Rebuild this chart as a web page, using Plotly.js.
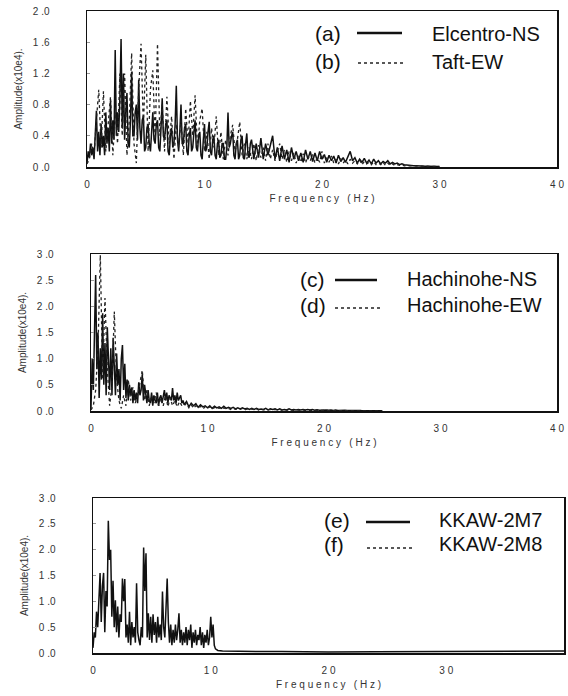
<!DOCTYPE html>
<html>
<head>
<meta charset="utf-8">
<script src="https://cdn.plot.ly/plotly-3.0.1.min.js"></script>
<style>
html,body{margin:0;padding:0;background:#fff;}
#chart{width:568px;height:696px;}
</style>
</head>
<body>
<div id="chart"></div>
<script>
// ---------- DATA (amplitude in x10e4) ----------
// Each series: a fine band (FINE_STEP Hz from 0 Hz) followed by a coarse band (COARSE_STEP Hz from its start).
const FINE_STEP = 0.1;
const COARSE_STEP = 0.2;

// (a) Elcentro-NS : 0.0 - 13.9 Hz fine, 14.0 - 30.0 Hz coarse
const ELCENTRO_NS_FINE = [
  0.05,0.20,0.12,0.30,0.15,0.25,0.10,0.40,0.72,0.20,
  0.45,0.15,0.55,0.25,0.40,0.15,0.70,0.30,0.50,0.20,
  0.85,0.30,0.60,0.35,1.50,0.40,0.70,0.45,0.90,1.64,
  0.50,1.20,0.35,0.70,0.95,0.30,0.25,0.60,1.22,0.40,
  0.40,0.70,0.80,0.35,1.12,0.50,0.30,0.60,0.65,0.20,
  0.25,0.50,0.55,0.30,0.20,0.45,0.70,0.35,0.30,0.55,
  0.60,0.25,0.20,0.50,0.88,0.40,0.35,0.55,0.60,0.20,
  0.15,0.40,0.50,0.25,0.30,0.55,1.04,0.35,0.20,0.45,
  0.80,0.30,0.30,0.50,0.55,0.20,0.15,0.40,0.50,0.20,
  0.25,0.45,0.60,0.25,0.20,0.40,0.45,0.15,0.10,0.35,
  0.55,0.20,0.25,0.45,0.58,0.20,0.15,0.35,0.40,0.15,
  0.10,0.30,0.35,0.12,0.15,0.30,0.30,0.10,0.10,0.25,
  0.70,0.25,0.30,0.40,0.45,0.15,0.10,0.30,0.35,0.10,
  0.15,0.35,0.40,0.12,0.10,0.30,0.43,0.15,0.12,0.30
];
const ELCENTRO_NS_COARSE_START = 14.0;
const ELCENTRO_NS_COARSE = [
  0.35,0.10,0.30,0.12,0.37,0.10,0.30,0.15,0.28,0.40,
  0.10,0.25,0.08,0.27,0.10,0.22,0.06,0.25,0.10,0.20,
  0.08,0.18,0.06,0.22,0.10,0.20,0.07,0.18,0.08,0.20,
  0.10,0.16,0.06,0.15,0.08,0.14,0.05,0.15,0.07,0.12,
  0.06,0.13,0.20,0.08,0.12,0.05,0.10,0.06,0.11,0.05,
  0.09,0.04,0.10,0.05,0.08,0.04,0.07,0.05,0.08,0.04,
  0.06,0.04,0.05,0.03,0.04,0.03,0.025,0.02,0.02,0.015,
  0.015,0.012,0.012,0.01,0.01,0.01,0.01,0.008,0.008,0.008,
  0.008
];

// (b) Taft-EW : 0.0 - 30.0 Hz coarse
const TAFT_EW_COARSE_START = 0.0;
const TAFT_EW_COARSE = [
  0.04,0.10,0.30,0.15,0.60,0.99,0.25,0.97,0.20,0.60,
  0.90,0.15,0.70,0.30,1.20,0.40,1.20,0.15,0.60,1.46,
  0.30,0.05,1.00,1.58,0.50,1.44,0.20,1.00,1.24,0.35,
  1.58,0.40,0.80,0.20,0.90,0.30,0.65,0.10,0.55,0.25,
  0.60,0.15,0.75,0.30,0.85,0.40,0.92,0.25,0.60,0.75,
  0.20,0.45,0.10,0.50,0.25,0.65,0.15,0.45,0.10,0.35,
  0.15,0.40,0.54,0.20,0.35,0.58,0.15,0.30,0.10,0.25,
  0.10,0.30,0.08,0.28,0.12,0.25,0.08,0.30,0.10,0.22,
  0.08,0.20,0.30,0.10,0.22,0.06,0.20,0.08,0.18,0.05,
  0.15,0.06,0.17,0.05,0.14,0.08,0.16,0.05,0.12,0.06,
  0.20,0.05,0.12,0.06,0.14,0.05,0.10,0.04,0.11,0.05,
  0.09,0.04,0.10,0.05,0.08,0.04,0.09,0.03,0.07,0.04,
  0.06,0.03,0.07,0.03,0.05,0.03,0.06,0.02,0.05,0.02,
  0.04,0.02,0.03,0.02,0.03,0.015,0.02,0.015,0.015,0.01,
  0.01,0.01,0.01,0.008,0.008,0.008,0.008,0.006,0.006,0.006,
  0.006
];

// (c) Hachinohe-NS : 0.0 - 7.9 Hz fine, 8.0 - 25.0 Hz coarse
const HACHINOHE_NS_FINE = [
  0.05,1.00,0.40,2.00,2.60,0.80,1.50,0.25,1.20,0.60,
  1.87,0.50,1.30,0.30,1.60,1.00,0.40,1.20,0.30,1.40,
  0.60,0.30,1.10,0.50,0.80,0.20,1.00,1.26,0.40,0.90,
  0.25,0.60,0.20,0.50,0.30,0.45,0.15,0.40,0.20,0.35,
  0.15,0.55,0.30,0.40,0.70,0.20,0.50,0.35,0.15,0.40,
  0.20,0.15,0.35,0.10,0.30,0.20,0.15,0.35,0.10,0.25,
  0.30,0.15,0.25,0.40,0.20,0.35,0.15,0.30,0.25,0.20,
  0.44,0.20,0.30,0.15,0.35,0.20,0.25,0.30,0.15,0.20
];
const HACHINOHE_NS_COARSE_START = 8.0;
const HACHINOHE_NS_COARSE = [
  0.12,0.18,0.08,0.15,0.10,0.14,0.07,0.12,0.08,0.10,
  0.06,0.10,0.05,0.09,0.06,0.08,0.05,0.09,0.05,0.07,
  0.05,0.07,0.04,0.06,0.04,0.06,0.04,0.05,0.03,0.05,
  0.03,0.05,0.03,0.04,0.03,0.05,0.02,0.04,0.03,0.04,
  0.02,0.04,0.02,0.03,0.02,0.04,0.02,0.03,0.02,0.03,
  0.02,0.03,0.02,0.03,0.02,0.03,0.015,0.025,0.015,0.02,
  0.015,0.02,0.015,0.02,0.01,0.02,0.01,0.015,0.01,0.015,
  0.01,0.012,0.01,0.012,0.008,0.01,0.008,0.01,0.008,0.008,
  0.006,0.008,0.006,0.006,0.005,0.005
];

// (d) Hachinohe-EW : 0.0 - 25.0 Hz coarse
const HACHINOHE_EW_COARSE_START = 0.0;
const HACHINOHE_EW_COARSE = [
  0.02,0.10,0.40,1.20,2.98,0.60,2.16,0.80,0.10,0.50,
  1.90,0.60,0.20,0.05,0.30,0.10,0.60,0.20,0.45,0.15,
  0.30,0.55,0.78,0.20,0.40,0.10,0.30,0.15,0.35,0.10,
  0.25,0.10,0.30,0.08,0.25,0.10,0.20,0.08,0.18,0.10,
  0.10,0.15,0.06,0.12,0.05,0.10,0.06,0.09,0.04,0.08,
  0.05,0.08,0.04,0.07,0.04,0.06,0.03,0.06,0.04,0.05,
  0.03,0.05,0.03,0.04,0.03,0.05,0.02,0.04,0.03,0.04,
  0.02,0.04,0.02,0.03,0.02,0.03,0.02,0.03,0.02,0.03,
  0.02,0.03,0.015,0.025,0.015,0.02,0.015,0.02,0.01,0.02,
  0.01,0.02,0.01,0.015,0.01,0.015,0.01,0.012,0.008,0.01,
  0.008,0.01,0.008,0.01,0.006,0.008,0.006,0.008,0.005,0.006,
  0.005,0.006,0.005,0.005,0.004,0.005,0.004,0.004,0.004,0.004,
  0.003,0.003,0.003,0.003,0.003,0.003
];

// (e) KKAW-2M7 : 0.0 - 10.6 Hz fine, then the flat tail at listed frequencies
const KKAW_2M7_FINE = [
  0.10,0.40,0.30,0.80,0.50,1.10,1.55,0.60,1.30,1.55,
  0.40,1.20,0.90,2.56,1.80,2.00,0.70,1.40,0.50,1.02,
  0.40,0.90,0.30,0.75,0.60,1.44,1.00,1.43,0.30,0.55,
  0.20,0.80,0.15,0.60,0.30,0.50,0.20,1.35,0.40,0.25,
  0.15,0.50,0.30,2.04,1.20,1.93,0.30,0.77,0.25,0.70,
  0.20,0.75,0.35,0.60,0.20,0.70,0.30,0.55,0.25,1.19,
  0.50,0.30,0.90,1.44,0.60,0.20,0.55,0.15,0.45,0.20,
  0.55,0.25,0.45,0.77,0.20,0.45,0.15,0.40,0.20,0.50,
  0.15,0.45,0.25,0.55,0.10,0.40,0.20,0.45,0.15,0.35,
  0.25,0.50,0.15,0.40,0.10,0.35,0.20,0.45,0.15,0.30,
  0.70,0.30,0.55,0.15,0.08,0.06,0.05
];
const KKAW_2M7_TAIL_FREQ = [11, 12, 14, 16, 18, 20, 24, 28, 32, 36, 40];
const KKAW_2M7_TAIL_AMP  = [0.04,0.035,0.03,0.03,0.025,0.02,0.025,0.03,0.03,0.035,0.04];

const LEGEND_TAGS  = ['(a)','(b)','(c)','(d)','(e)','(f)'];
const LEGEND_NAMES = ['Elcentro-NS','Taft-EW','Hachinohe-NS','Hachinohe-EW','KKAW-2M7','KKAW-2M8'];

const NB = '\u00a0';
const X_TICKS = [0,10,20,30,40];
const X_TICKTEXT = ['0','1'+NB+'0','2'+NB+'0','3'+NB+'0','4'+NB+'0'];
const Y1_TICKS = [0,0.4,0.8,1.2,1.6,2.0];
const Y1_TICKTEXT = ['0'+NB+'.0','0'+NB+'.4','0'+NB+'.8','1'+NB+'.2','1'+NB+'.6','2'+NB+'.0'];
const Y23_TICKS = [0,0.5,1.0,1.5,2.0,2.5,3.0];
const Y23_TICKTEXT = ['0'+NB+'.0','0'+NB+'.5','1'+NB+'.0','1'+NB+'.5','2'+NB+'.0','2'+NB+'.5','3'+NB+'.0'];

const X_TITLE = 'F r e q u e n c y   ( H z )';
const Y_TITLE = 'Amplitude(x10e4).';

// ---------- helpers ----------
function grid(start, step, n) {
  return Array.from({length: n}, (_, i) => +(start + i * step).toFixed(3));
}

// ---------- LAYOUT ----------
const W = 568, H = 696;
const px = v => v / W;
const py = v => 1 - v / H;

const FONT = 'Liberation Sans, Arial, Helvetica, sans-serif';
const tickFont = {family: FONT, size: 10, color: '#333'};

function xAxis(left, right, anchor) {
  return {
    domain: [px(left), px(right)], range: [0, 40], anchor: anchor,
    tickvals: X_TICKS, ticktext: X_TICKTEXT, tickfont: tickFont,
    ticks: '', ticklabelstandoff: 7,
    showline: true, mirror: true, linecolor: '#111', linewidth: 1.5,
    showgrid: false, zeroline: false, fixedrange: true,
    title: {text: X_TITLE, font: {family: FONT, size: 10, color: '#333'}, standoff: 6}
  };
}
function yAxis(top, bottom, anchor, maxv, tv, tt) {
  return {
    domain: [py(bottom), py(top)], range: [0, maxv], anchor: anchor,
    tickvals: tv, ticktext: tt, tickfont: tickFont,
    ticks: 'inside', ticklen: 3, tickcolor: '#999', ticklabelstandoff: 34,
    showline: true, mirror: true, linecolor: '#111', linewidth: 1.5,
    showgrid: false, zeroline: false, fixedrange: true,
    title: {text: Y_TITLE, font: {family: FONT, size: 10, color: '#333'}, standoff: 8}
  };
}

const solid = {color: '#111', width: 1.5};
const dotted = {color: '#222', width: 1.3, dash: 'dot'};

const elX = grid(0, FINE_STEP, ELCENTRO_NS_FINE.length)
  .concat(grid(ELCENTRO_NS_COARSE_START, COARSE_STEP, ELCENTRO_NS_COARSE.length));
const elY = ELCENTRO_NS_FINE.concat(ELCENTRO_NS_COARSE);
const taftX = grid(TAFT_EW_COARSE_START, COARSE_STEP, TAFT_EW_COARSE.length);
const hnsX = grid(0, FINE_STEP, HACHINOHE_NS_FINE.length)
  .concat(grid(HACHINOHE_NS_COARSE_START, COARSE_STEP, HACHINOHE_NS_COARSE.length));
const hnsY = HACHINOHE_NS_FINE.concat(HACHINOHE_NS_COARSE);
const hewX = grid(HACHINOHE_EW_COARSE_START, COARSE_STEP, HACHINOHE_EW_COARSE.length);
const kkX = grid(0, FINE_STEP, KKAW_2M7_FINE.length).concat(KKAW_2M7_TAIL_FREQ);
const kkY = KKAW_2M7_FINE.concat(KKAW_2M7_TAIL_AMP);

const traces = [
  {x: elX, y: elY, xaxis: 'x', yaxis: 'y', name: LEGEND_NAMES[0], mode: 'lines', line: solid},
  {x: taftX, y: TAFT_EW_COARSE, xaxis: 'x', yaxis: 'y', name: LEGEND_NAMES[1], mode: 'lines', line: dotted},
  {x: hnsX, y: hnsY, xaxis: 'x2', yaxis: 'y2', name: LEGEND_NAMES[2], mode: 'lines', line: solid},
  {x: hewX, y: HACHINOHE_EW_COARSE, xaxis: 'x2', yaxis: 'y2', name: LEGEND_NAMES[3], mode: 'lines', line: dotted},
  {x: kkX, y: kkY, xaxis: 'x3', yaxis: 'y3', name: LEGEND_NAMES[4], mode: 'lines', line: solid}
];

// legend rows (pixel positions): tag x, line x0, line x1, name x, text y, line y
const legendRows = [
  {tx: 313, l0: 357, l1: 402, nx: 430, ty: 34, ly: 33, dash: false},
  {tx: 313, l0: 358, l1: 403, nx: 430, ty: 62, ly: 63, dash: true},
  {tx: 298, l0: 335, l1: 377, nx: 405, ty: 279, ly: 280, dash: false},
  {tx: 298, l0: 335, l1: 380, nx: 405, ty: 305, ly: 308, dash: true},
  {tx: 322, l0: 366, l1: 410, nx: 437, ty: 520, ly: 522, dash: false},
  {tx: 322, l0: 367, l1: 413, nx: 437, ty: 544, ly: 548, dash: true}
];

const annotations = [];
const shapes = [];
legendRows.forEach((r, i) => {
  annotations.push({xref: 'paper', yref: 'paper', x: px(r.tx), y: py(r.ty), xanchor: 'left', yanchor: 'middle',
    text: LEGEND_TAGS[i], showarrow: false, font: {family: FONT, size: 21, color: '#111'}});
  annotations.push({xref: 'paper', yref: 'paper', x: px(r.nx), y: py(r.ty), xanchor: 'left', yanchor: 'middle',
    text: LEGEND_NAMES[i], showarrow: false, font: {family: FONT, size: 20, color: '#111'}});
  shapes.push({type: 'line', xref: 'paper', yref: 'paper', x0: px(r.l0), x1: px(r.l1), y0: py(r.ly), y1: py(r.ly),
    line: r.dash ? {color: '#222', width: 1.5, dash: 'dot'} : {color: '#111', width: 2.5}});
});

const layout = {
  width: W, height: H,
  margin: {l: 0, r: 0, t: 0, b: 0},
  paper_bgcolor: '#fff', plot_bgcolor: '#fff',
  showlegend: false,
  font: {family: FONT, color: '#222'},
  xaxis: xAxis(87, 557, 'y'),
  yaxis: yAxis(11, 167, 'x', 2.0, Y1_TICKS, Y1_TICKTEXT),
  xaxis2: xAxis(91, 557, 'y2'),
  yaxis2: yAxis(254, 411, 'x2', 3.0, Y23_TICKS, Y23_TICKTEXT),
  xaxis3: xAxis(93, 564, 'y3'),
  yaxis3: yAxis(498, 653, 'x3', 3.0, Y23_TICKS, Y23_TICKTEXT),
  annotations: annotations,
  shapes: shapes
};

Plotly.newPlot('chart', traces, layout, {displayModeBar: false, staticPlot: true});
</script>
</body>
</html>
